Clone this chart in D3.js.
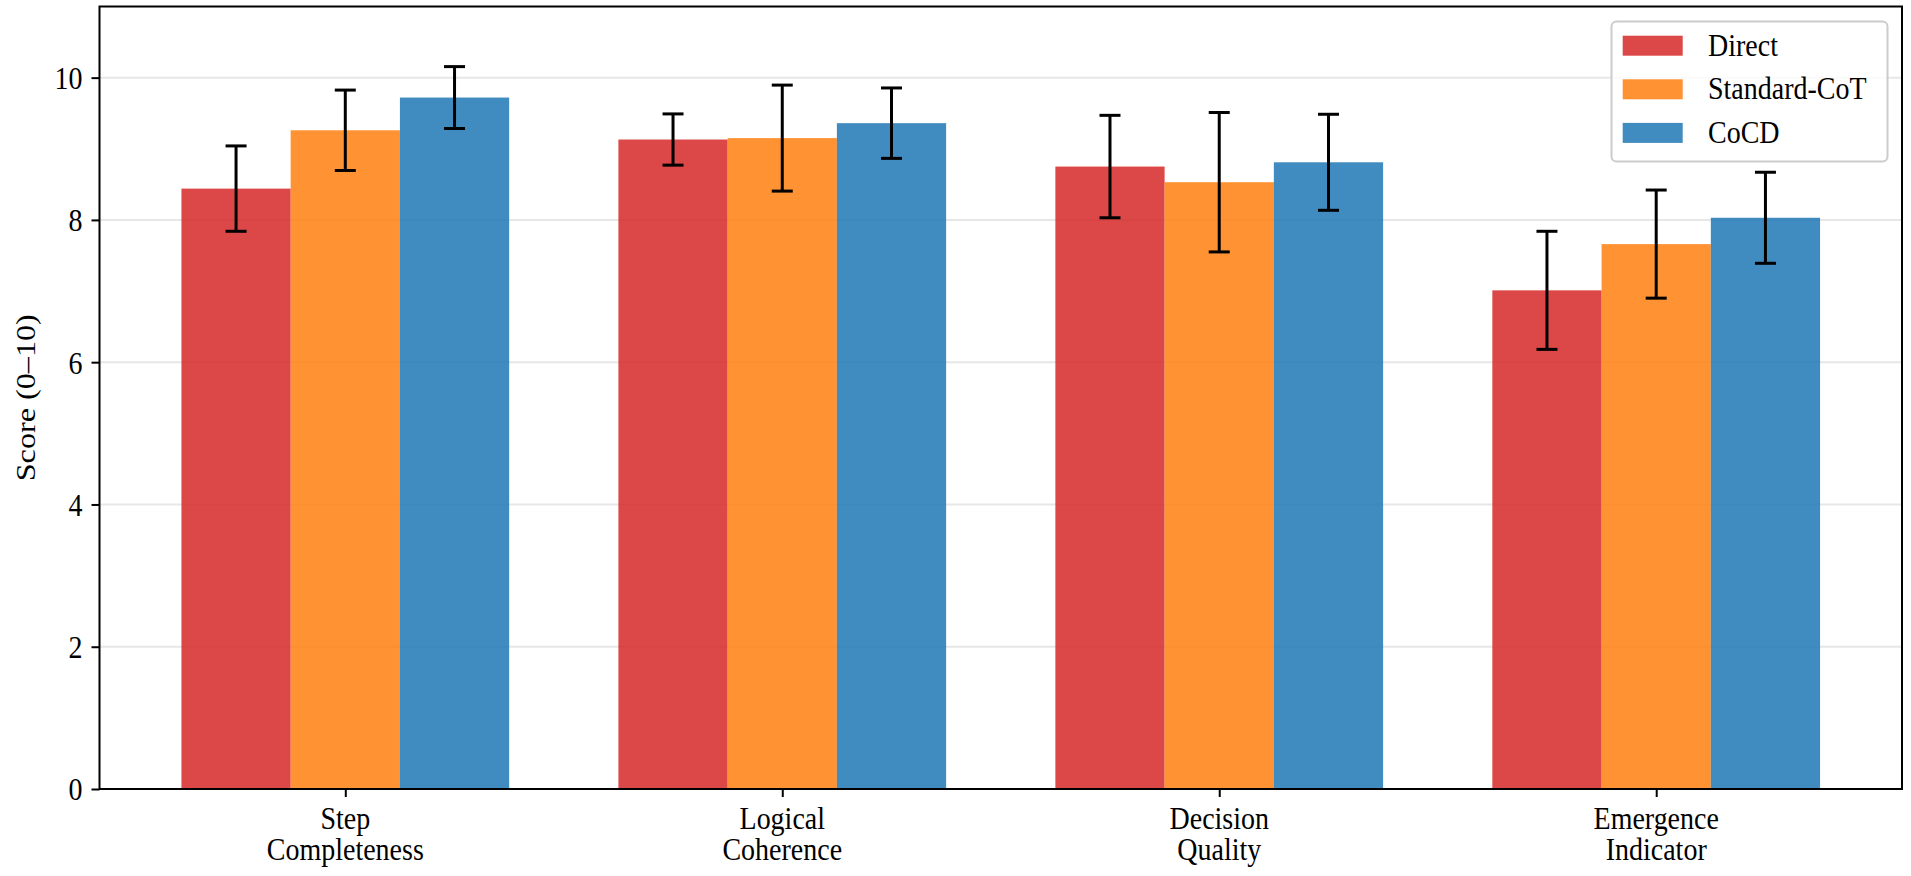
<!DOCTYPE html>
<html>
<head>
<meta charset="utf-8">
<script src="https://cdn.jsdelivr.net/npm/d3@7"></script>
<style>
  body { margin: 0; background: #fff; }
  text { font-family: "Liberation Serif", "Times New Roman", serif; fill: #000; }
</style>
</head>
<body>
<svg id="chart"></svg>
<script>
// data
const categories = ["Step\nCompleteness", "Logical\nCoherence", "Decision\nQuality", "Emergence\nIndicator"];
const seriesNames = ["Direct", "Standard-CoT", "CoCD"];
const seriesColors = ["#d62728", "#ff7f0e", "#1f77b4"];
const directMean = [8.44, 9.13, 8.75, 7.01];
const directStd = [0.60, 0.36, 0.72, 0.83];
const cotMean = [9.26, 9.15, 8.53, 7.66];
const cotStd = [0.565, 0.745, 0.98, 0.76];
const cocdMean = [9.72, 9.36, 8.81, 8.03];
const cocdStd = [0.435, 0.495, 0.675, 0.64];
const yTicks = [0, 2, 4, 6, 8, 10];

const means = [directMean, cotMean, cocdMean];
const stds = [directStd, cotStd, cocdStd];

// layout
const width = 1911;
const height = 876;
const plot = {left: 99.5, right: 1902, top: 6.5, bottom: 789};
const barWidth = 0.25;
const fontSize = 28;
// the source picture is stretched vertically, so text is too
const stretch = 'scale(1,1.15)';

const svg = d3.select('#chart')
    .attr('width', width)
    .attr('height', height);

const x = d3.scaleLinear()
    .domain([-0.5625, categories.length - 1 + 0.5625])
    .range([plot.left, plot.right]);

const y = d3.scaleLinear()
    .domain([0, 11])
    .range([plot.bottom, plot.top]);

// grid
svg.append('g')
    .selectAll('line')
    .data(yTicks)
    .enter()
    .append('line')
    .attr('x1', plot.left)
    .attr('x2', plot.right)
    .attr('y1', d => y(d))
    .attr('y2', d => y(d))
    .attr('stroke', '#b0b0b0')
    .attr('stroke-opacity', 0.3)
    .attr('stroke-width', 2);

// bars
const bars = [];
means.forEach(function(m, s) {
    m.forEach(function(v, i) {
        bars.push({s: s, i: i, value: v, std: stds[s][i]});
    });
});

svg.append('g')
    .selectAll('rect')
    .data(bars)
    .enter()
    .append('rect')
    .attr('x', d => x(d.i + (d.s - 1) * barWidth - barWidth / 2))
    .attr('width', x(barWidth) - x(0))
    .attr('y', d => y(d.value))
    .attr('height', d => y(0) - y(d.value))
    .attr('fill', d => seriesColors[d.s])
    .attr('fill-opacity', 0.85);

// error bars
const capHalf = 10.5;
const err = svg.append('g')
    .attr('stroke', '#000')
    .attr('stroke-width', 3)
    .selectAll('g')
    .data(bars)
    .enter()
    .append('g');
err.append('line')
    .attr('x1', d => x(d.i + (d.s - 1) * barWidth))
    .attr('x2', d => x(d.i + (d.s - 1) * barWidth))
    .attr('y1', d => y(d.value - d.std))
    .attr('y2', d => y(d.value + d.std));
[-1, 1].forEach(function(sign) {
    err.append('line')
        .attr('x1', d => x(d.i + (d.s - 1) * barWidth) - capHalf)
        .attr('x2', d => x(d.i + (d.s - 1) * barWidth) + capHalf)
        .attr('y1', d => y(d.value + sign * d.std))
        .attr('y2', d => y(d.value + sign * d.std));
});

// y axis
const yAxis = svg.append('g')
    .attr('transform', 'translate(' + plot.left + ',0)')
    .call(d3.axisLeft(y).tickValues(yTicks).tickSize(8).tickPadding(9));
yAxis.select('.domain').remove();
yAxis.selectAll('line').attr('stroke-width', 2);
yAxis.selectAll('text')
    .attr('transform', stretch)
    .attr('dy', '0.34em')
    .style('font-size', fontSize + 'px')
    .style('font-family', '"Liberation Serif", serif');

// x axis
const xAxis = svg.append('g')
    .attr('transform', 'translate(0,' + plot.bottom + ')')
    .call(d3.axisBottom(x).tickValues(d3.range(categories.length)).tickSize(8).tickFormat(''));
xAxis.select('.domain').remove();
xAxis.selectAll('line').attr('stroke-width', 2);

// two-line category labels, one text per line
const labelLines = [];
categories.forEach(function(c, i) {
    c.split('\n').forEach(function(line, k) {
        labelLines.push({i: i, k: k, text: line});
    });
});
svg.append('g')
    .selectAll('text')
    .data(labelLines)
    .enter()
    .append('text')
    .attr('text-anchor', 'middle')
    .attr('transform', d => 'translate(' + x(d.i) + ',' + (829 + d.k * 30.7) + ') ' + stretch)
    .style('font-size', fontSize + 'px')
    .text(d => d.text);

// frame
svg.append('rect')
    .attr('x', plot.left)
    .attr('y', plot.top)
    .attr('width', plot.right - plot.left)
    .attr('height', plot.bottom - plot.top)
    .attr('fill', 'none')
    .attr('stroke', '#000')
    .attr('stroke-width', 2);

// y label
svg.append('text')
    .attr('transform', 'translate(25,' + (plot.top + plot.bottom) / 2 + ') ' + stretch + ' rotate(-90)')
    .attr('text-anchor', 'middle')
    .attr('dy', '0.35em')
    .style('font-size', fontSize + 'px')
    .text('Score (0\u201310)');

// legend
const legend = svg.append('g');
legend.append('rect')
    .attr('x', 1611.5)
    .attr('y', 21.5)
    .attr('width', 276)
    .attr('height', 140)
    .attr('rx', 5)
    .attr('fill', '#fff')
    .attr('fill-opacity', 0.8)
    .attr('stroke', '#cccccc')
    .attr('stroke-width', 2);
const items = legend.selectAll('g.item')
    .data(seriesNames)
    .enter()
    .append('g')
    .attr('class', 'item')
    .attr('transform', (d, i) => 'translate(0,' + (45.7 + i * 43.6) + ')');
items.append('rect')
    .attr('x', 1622.7)
    .attr('y', -10)
    .attr('width', 60)
    .attr('height', 20)
    .attr('fill', (d, i) => seriesColors[i])
    .attr('fill-opacity', 0.85);
items.append('text')
    .attr('transform', 'translate(1708,0) ' + stretch)
    .attr('dy', '0.31em')
    .style('font-size', fontSize + 'px')
    .text(d => d);
</script>
</body>
</html>
